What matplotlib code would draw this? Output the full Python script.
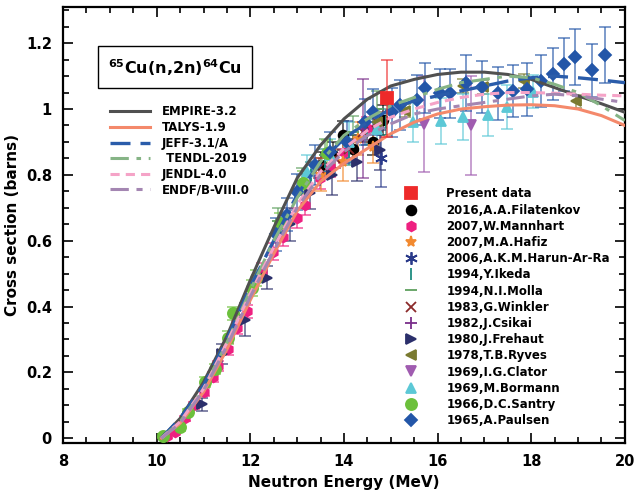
import numpy as np
import matplotlib
matplotlib.use("Agg")
import matplotlib.pyplot as plt
from matplotlib.ticker import MultipleLocator

plt.rcParams['font.family'] = ['DejaVu Sans']
plt.rcParams['font.weight'] = 'bold'
plt.rcParams['mathtext.default'] = 'bf'

# evaluation curves (common energy grid, MeV)
e_lib = [10.1, 10.5, 11.0, 11.5, 12.0, 12.5, 13.0, 13.5, 14.0, 14.5, 15.0,
         15.5, 16.0, 16.5, 17.0, 17.5, 18.0, 18.5, 19.0, 19.5, 20.0]
empire = [0.0, 0.06, 0.17, 0.31, 0.48, 0.64, 0.79, 0.89, 0.97, 1.03, 1.07,
          1.09, 1.105, 1.112, 1.112, 1.105, 1.09, 1.065, 1.04, 1.016, 0.99]
talys = [0.0, 0.045, 0.14, 0.27, 0.42, 0.56, 0.69, 0.78, 0.835, 0.88, 0.925,
         0.96, 0.985, 1.0, 1.007, 1.012, 1.013, 1.01, 1.0, 0.98, 0.95]
jeff = [0.0, 0.06, 0.16, 0.30, 0.46, 0.60, 0.74, 0.84, 0.91, 0.96, 1.0,
        1.025, 1.04, 1.055, 1.07, 1.085, 1.095, 1.1, 1.095, 1.088, 1.08]
tendl = [0.0, 0.05, 0.15, 0.29, 0.45, 0.60, 0.73, 0.84, 0.92, 0.97, 1.01,
         1.035, 1.06, 1.08, 1.09, 1.1, 1.095, 1.075, 1.05, 1.01, 0.965]
jendl = [0.0, 0.05, 0.15, 0.29, 0.44, 0.58, 0.71, 0.81, 0.88, 0.935, 0.975,
         1.0, 1.02, 1.035, 1.045, 1.05, 1.05, 1.048, 1.045, 1.042, 1.04]
endf = [0.0, 0.045, 0.145, 0.28, 0.43, 0.57, 0.70, 0.80, 0.87, 0.92, 0.955,
        0.985, 1.0, 1.01, 1.02, 1.03, 1.04, 1.045, 1.04, 1.03, 1.02]

# experimental data: energy, cross section, uncertainty
present_e = [14.92]
present_s = [1.033]
present_d = [0.117]

filatenkov_e = [13.5, 13.76, 13.98, 14.2, 14.62, 14.83]
filatenkov_s = [0.83, 0.86, 0.92, 0.88, 0.90, 0.967]
filatenkov_d = [0.04, 0.04, 0.045, 0.04, 0.04, 0.045]

mannhart_e = [10.22, 10.39, 10.6, 10.8, 11.0, 11.2, 11.31, 11.52, 11.71, 11.92,
              12.25, 12.48, 12.7, 12.99, 13.17, 13.49, 13.7, 14.0, 14.49]
mannhart_s = [0.006, 0.02, 0.06, 0.10, 0.14, 0.185, 0.22, 0.27, 0.336, 0.385,
              0.506, 0.567, 0.612, 0.67, 0.709, 0.79, 0.824, 0.87, 0.942]
mannhart_d = [0.005, 0.006, 0.008, 0.01, 0.012, 0.015, 0.015, 0.018, 0.02, 0.02,
              0.025, 0.025, 0.028, 0.03, 0.03, 0.032, 0.032, 0.035, 0.035]

hafiz_e = [13.5, 13.98, 14.3, 14.62]
hafiz_s = [0.80, 0.84, 0.91, 0.885]
hafiz_d = [0.05, 0.06, 0.05, 0.05]

harun_e = [14.8]
harun_s = [0.852]
harun_d = [0.09]

ikeda_e = [13.3, 13.6, 14.1, 14.5, 14.9]
ikeda_s = [0.80, 0.84, 0.87, 0.93, 0.96]
ikeda_d = [0.04, 0.04, 0.04, 0.04, 0.04]

molla_e = [12.6, 13.1, 13.6, 14.2, 14.7]
molla_s = [0.66, 0.78, 0.86, 0.93, 1.0]
molla_d = [0.04, 0.04, 0.05, 0.05, 0.055]

winkler_e = [13.47, 13.8, 14.1, 14.4, 14.7]
winkler_s = [0.82, 0.85, 0.88, 0.93, 0.96]
winkler_d = [0.03, 0.03, 0.03, 0.03, 0.03]

csikai_e = [14.4]
csikai_s = [0.94]
csikai_d = [0.15]

frehaut_e = [10.97, 11.39, 11.88, 12.35, 12.85, 13.27, 13.75, 14.27, 14.77]
frehaut_s = [0.103, 0.255, 0.36, 0.487, 0.65, 0.745, 0.80, 0.84, 0.876]
frehaut_d = [0.02, 0.03, 0.05, 0.035, 0.05, 0.05, 0.06, 0.06, 0.06]

ryves_e = [14.7, 15.3, 16.54, 16.97, 17.85, 18.95]
ryves_s = [0.96, 0.995, 1.07, 1.067, 1.085, 1.024]
ryves_d = [0.02, 0.02, 0.02, 0.02, 0.02, 0.02]

clator_e = [15.7, 16.72]
clator_s = [0.955, 0.95]
clator_d = [0.145, 0.15]

bormann_e = [13.2, 13.7, 14.1, 14.7, 15.47, 16.07, 16.54, 17.07, 17.48, 18.03]
bormann_s = [0.81, 0.86, 0.90, 0.94, 0.96, 0.964, 0.975, 0.982, 1.006, 1.052]
bormann_d = [0.05, 0.05, 0.06, 0.06, 0.06, 0.07, 0.07, 0.065, 0.068, 0.05]

santry_e = [10.13, 10.5, 10.67, 11.03, 11.24, 11.52, 11.63, 12.03, 12.12,
            12.63, 13.13, 13.63]
santry_s = [0.007, 0.033, 0.08, 0.17, 0.21, 0.305, 0.38, 0.457, 0.487,
            0.655, 0.776, 0.866]
santry_d = [0.005, 0.01, 0.01, 0.015, 0.015, 0.02, 0.02, 0.025, 0.025,
            0.03, 0.035, 0.04]

paulsen_e = [12.55, 12.78, 12.99, 13.38, 13.7, 14.06, 14.45, 14.62, 15.02, 15.19,
             15.56, 15.73, 16.05, 16.26, 16.6, 16.94, 17.28, 17.6, 17.9, 18.2,
             18.46, 18.69, 18.93, 19.29, 19.57]
paulsen_s = [0.62, 0.679, 0.748, 0.83, 0.87, 0.90, 0.96, 0.99, 0.99, 1.012,
             1.027, 1.064, 1.048, 1.048, 1.079, 1.067, 1.048, 1.055, 1.06, 1.085,
             1.106, 1.136, 1.158, 1.118, 1.164]
paulsen_d = [0.05, 0.05, 0.055, 0.06, 0.06, 0.065, 0.07, 0.07, 0.075, 0.075,
             0.075, 0.075, 0.075, 0.075, 0.085, 0.08, 0.08, 0.08, 0.08, 0.08,
             0.08, 0.08, 0.085, 0.08, 0.085]

fig = plt.figure(figsize=(6.37, 4.99), dpi=100)
ax = fig.add_axes([0.099, 0.112, 0.882, 0.874])

exp_sets = [
    (present_e, present_s, present_d, 's', '#EE2A2A', 9, 'Present data'),
    (filatenkov_e, filatenkov_s, filatenkov_d, 'o', '#000000', 7, '2016,A.A.Filatenkov'),
    (mannhart_e, mannhart_s, mannhart_d, 'h', '#EE2080', 7, '2007,W.Mannhart'),
    (hafiz_e, hafiz_s, hafiz_d, '*', '#F28A30', 8, '2007,M.A.Hafiz'),
    (harun_e, harun_s, harun_d, (6, 2, 0), '#2A3A8A', 9, '2006,A.K.M.Harun-Ar-Ra'),
    (ikeda_e, ikeda_s, ikeda_d, '|', '#1F8C80', 8, '1994,Y.Ikeda'),
    (molla_e, molla_s, molla_d, '_', '#5FA05F', 8, '1994,N.I.Molla'),
    (winkler_e, winkler_s, winkler_d, 'x', '#8B2A2A', 7, '1983,G.Winkler'),
    (csikai_e, csikai_s, csikai_d, '+', '#7A2E8A', 8, '1982,J.Csikai'),
    (frehaut_e, frehaut_s, frehaut_d, '>', '#2B2F6B', 7, '1980,J.Frehaut'),
    (ryves_e, ryves_s, ryves_d, '<', '#7A7A30', 7, '1978,T.B.Ryves'),
    (clator_e, clator_s, clator_d, 'v', '#A05CB0', 7, '1969,I.G.Clator'),
    (bormann_e, bormann_s, bormann_d, '^', '#5CC8D6', 7, '1969,M.Bormann'),
    (santry_e, santry_s, santry_d, 'o', '#6CC03C', 8, '1966,D.C.Santry'),
    (paulsen_e, paulsen_s, paulsen_d, 'D', '#2356A8', 6.5, '1965,A.Paulsen'),
]

exp_handles = []
for e, s, d, m, c, ms, lab in exp_sets:
    z = 6 if lab == 'Present data' else 2
    ax.errorbar(e, s, yerr=d, fmt='none', ecolor=c, elinewidth=1.1,
                capsize=4, capthick=1.1, alpha=0.75, zorder=z)
    h, = ax.plot(e, s, linestyle='none', marker=m, color=c, markersize=ms,
                 markeredgewidth=1.3, label=lab, zorder=z + 1)
    exp_handles.append(h)

lib_handles = []
lib_handles += ax.plot(e_lib, empire, color='#505050', lw=2.2, label='EMPIRE-3.2', zorder=4)
lib_handles += ax.plot(e_lib, talys, color='#F4896B', lw=2.2, label='TALYS-1.9', zorder=4)
lib_handles += ax.plot(e_lib, jeff, color='#2A5CAA', lw=2.4, dashes=(6, 3), label='JEFF-3.1/A', zorder=4)
lib_handles += ax.plot(e_lib, tendl, color='#86B486', lw=2.2, dashes=(6, 2.5, 1.5, 2.5), label=' TENDL-2019', zorder=4)
lib_handles += ax.plot(e_lib, jendl, color='#F5A3C7', lw=2.2, dashes=(3, 2), label='JENDL-4.0', zorder=4)
lib_handles += ax.plot(e_lib, endf, color='#A486B2', lw=2.2, dashes=(6, 2.5, 2, 2.5), label='ENDF/B-VIII.0', zorder=4)

ax.set_xlim(8, 20)
ax.set_ylim(-0.015, 1.31)
ax.xaxis.set_major_locator(MultipleLocator(2))
ax.xaxis.set_minor_locator(MultipleLocator(0.5))
ax.yaxis.set_major_locator(MultipleLocator(0.2))
ax.yaxis.set_minor_locator(MultipleLocator(0.05))
ax.tick_params(which='both', direction='in', top=True, right=True, width=1.2)
ax.tick_params(which='major', length=7, labelsize=10.5, pad=8)
ax.tick_params(which='minor', length=4)
ax.set_yticks([0, 0.2, 0.4, 0.6, 0.8, 1.0, 1.2])
ax.set_yticklabels(['0', '0.2', '0.4', '0.6', '0.8', '1', '1.2'])
for sp in ax.spines.values():
    sp.set_linewidth(1.6)

ax.set_xlabel('Neutron Energy (MeV)', fontsize=11, fontweight='bold')
ax.set_ylabel('Cross section (barns)', fontsize=11, fontweight='bold')

ax.text(0.199, 0.862, r'$^{65}$Cu(n,2n)$^{64}$Cu', transform=ax.transAxes,
        ha='center', va='center', fontsize=11.5, fontweight='bold',
        bbox=dict(boxstyle='square,pad=0.65', fc='white', ec='black', lw=1.0))

leg1 = ax.legend(handles=lib_handles, loc='upper left', bbox_to_anchor=(0.075, 0.785),
                 frameon=False, fontsize=8.5, handlelength=3.4, labelspacing=0.22,
                 handletextpad=1.0, borderaxespad=0)
ax.add_artist(leg1)
ax.legend(handles=exp_handles, loc='upper left', bbox_to_anchor=(0.6, 0.597),
          frameon=False, fontsize=8.5, handlelength=1.0, labelspacing=0.27,
          handletextpad=2.5, borderaxespad=0)

fig.savefig('out.png', dpi=100)
